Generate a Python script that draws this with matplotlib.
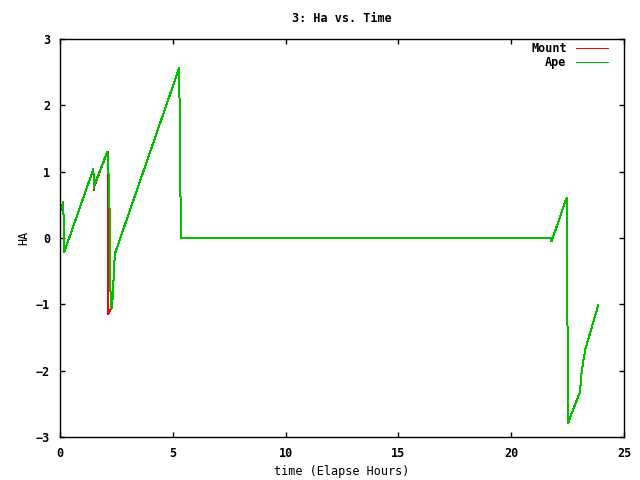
"""Ha vs. Time, mount and Ape hour angle over the elapsed session."""
import matplotlib
matplotlib.use("Agg")
import matplotlib.pyplot as plt

# elapsed hours / hour angle
ape_t = [0.0, 0.15, 0.16, 0.19, 1.48, 1.50, 1.52, 2.10, 2.19, 2.21, 2.26,
         2.30, 2.36, 2.39, 2.45, 5.29, 5.30, 5.34, 5.38, 21.75, 21.79,
         22.46, 22.49, 22.53, 22.57, 23.05, 23.10, 23.20, 23.30, 23.86]
ape_ha = [0.40, 0.55, 0.17, -0.21, 1.04, 0.75, 0.80, 1.30, 0.70, -0.48, -1.06,
          -1.05, -0.78, -0.43, -0.22, 2.57, 1.93, 0.65, 0.0, 0.0, -0.05,
          0.61, -1.09, -2.79, -2.74, -2.32, -2.09, -1.84, -1.66, -1.01]

mount_t = [0.0, 0.15, 0.16, 0.19, 1.48, 1.50, 1.52, 2.10, 2.13, 2.14, 2.20,
           2.26, 2.30, 2.36, 2.39, 2.45, 5.29, 5.30, 5.34, 5.38, 21.75, 21.79,
           22.46, 22.49, 22.53, 22.57, 23.05, 23.10, 23.20, 23.30, 23.86]
mount_ha = [0.40, 0.55, 0.17, -0.21, 1.04, 0.73, 0.78, 1.30, 1.28, -1.14, -1.10,
            -1.06, -1.05, -0.78, -0.43, -0.22, 2.57, 1.93, 0.65, 0.0, 0.0, -0.05,
            0.61, -1.09, -2.79, -2.74, -2.32, -2.09, -1.84, -1.66, -1.01]

x_ticks = [0, 5, 10, 15, 20, 25]
y_ticks = [-3, -2, -1, 0, 1, 2, 3]

FS = 8.5
plt.rcParams["font.family"] = ["DejaVu Sans Mono"]
plt.rcParams["font.size"] = FS
plt.rcParams["font.weight"] = "bold"

fig = plt.figure(figsize=(6.4, 4.8), dpi=100)
ax = fig.add_axes([60 / 640, 43 / 480, 564 / 640, 398 / 480])

ax.plot(mount_t, mount_ha, color="#ff0000", lw=0.72, label="Mount", antialiased=False)
ax.plot(ape_t, ape_ha, color="#00c000", lw=0.72, label="Ape", antialiased=False)

ax.set_xlim(0, 25)
ax.set_ylim(-3, 3)
ax.set_xticks(x_ticks)
ax.set_yticks(y_ticks)
ax.tick_params(direction="in", length=3.5, width=1, top=True, right=True, pad=7)
for s in ax.spines.values():
    s.set_linewidth(1)

ax.set_title("3: Ha vs. Time", pad=12.5, fontsize=FS, fontweight="bold")
ax.set_xlabel("time (Elapse Hours)", labelpad=4)
ax.set_ylabel("HA", labelpad=4)

ax.legend(loc="upper right", bbox_to_anchor=(548 / 564, 395 / 398),
          frameon=False, markerfirst=False, handlelength=2.75,
          handletextpad=0.75, labelspacing=0.1, borderpad=0,
          borderaxespad=0, fontsize=FS)

fig.savefig("out.png", dpi=100)
